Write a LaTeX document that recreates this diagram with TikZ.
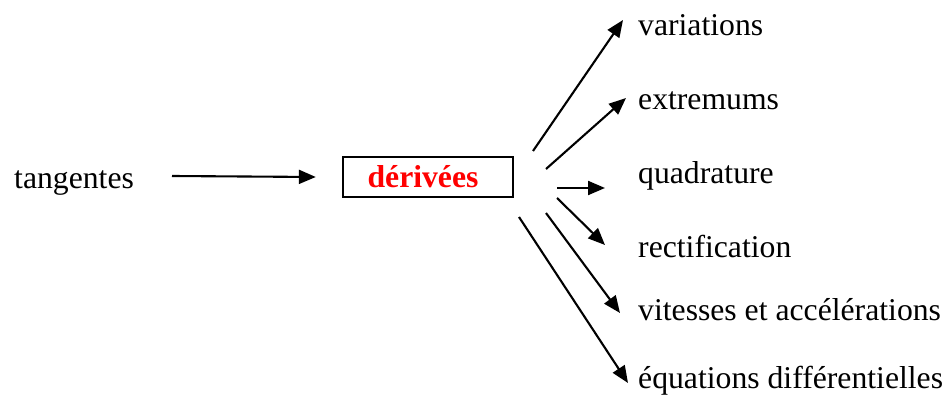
\documentclass[tikz,border=0pt]{standalone}
\usepackage{fontspec}
\setmainfont{Liberation Serif}
\usepackage{tikz}
\usetikzlibrary{arrows.meta,positioning}
\usepackage{xcolor}

\begin{document}
\begin{tikzpicture}[
    x=1pt,y=-1pt,
    font=\fontsize{31.7}{38}\selectfont,
    box/.style={draw,line width=2.4pt,minimum width=170pt,minimum height=40pt,inner sep=0pt,text=red,font=\fontsize{31.7}{38}\selectfont\bfseries},
    lbl/.style={inner sep=0pt,anchor=base west},
    arr/.style={-{Triangle[length=17pt,width=14pt]},line width=2.1pt}
]
\useasboundingbox (0,0) rectangle (951,419);
\node[lbl] (tan) at (14,189) {tangentes};
\node[box] (der) at (428,177) {\hspace*{-10pt}dérivées};
\node[lbl] (var) at (638,36) {variations};
\node[lbl] (ext) at (638,110) {extremums};
\node[lbl] (quad) at (638,184) {quadrature};
\node[lbl] (rect) at (638,258) {rectification};
\node[lbl] (vit) at (638,321) {vitesses et accélérations};
\node[lbl] (equ) at (638,389) {équations différentielles};
% free starting points of the arrows
\coordinate (t0) at (172,176);
\coordinate (s1) at (533,151);
\coordinate (s2) at (546,169);
\coordinate (s3) at (557,188);
\coordinate (s4) at (557,198);
\coordinate (s5) at (546,213);
\coordinate (s6) at (519,217);
\draw[arr] (t0)--([xshift=-26pt]der.west);
\draw[arr] (s1)--([shift={(-15,-16)}]var.base west);
\draw[arr] (s2)--([shift={(-12,-12)}]ext.base west);
\draw[arr] (s3)--([shift={(-33,4)}]quad.base west);
\draw[arr] (s4)--([shift={(-33,-13)}]rect.base west);
\draw[arr] (s5)--([shift={(-18,-8)}]vit.base west);
\draw[arr] (s6)--([shift={(-10,-6)}]equ.base west);
\end{tikzpicture}
\end{document}
